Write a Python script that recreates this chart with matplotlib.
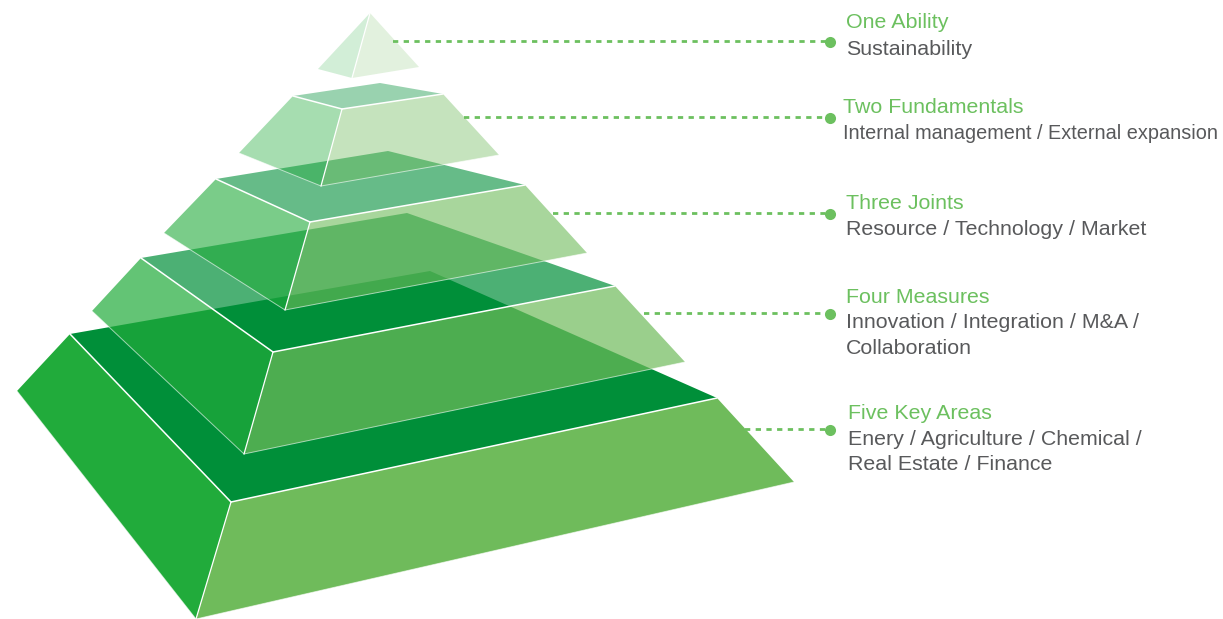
"""Five tier strategy pyramid with labels on the right."""

import matplotlib

matplotlib.use("Agg")
import matplotlib.pyplot as plt
from matplotlib.patches import Polygon

plt.rcParams["font.family"] = ["Liberation Sans", "DejaVu Sans"]

WIDTH, HEIGHT = 1223, 619

# vertices, in image pixels, bottom tier first
tops = [
    [(430, 271), (70, 334), (231, 502), (717, 398)],
    [(407, 213), (141, 258), (273, 352), (615, 286)],
    [(388, 151), (216, 179), (310, 222), (525, 185)],
    [(380, 83), (293, 96), (342, 109), (443, 94)],
    None,
]
lefts = [
    [(70, 334), (231, 502), (196, 619), (17, 391)],
    [(141, 258), (273, 352), (244, 454), (92, 311)],
    [(216, 179), (310, 222), (285, 310), (164, 233)],
    [(293, 96), (342, 109), (321, 186), (239, 153)],
    [(370, 13), (352, 78), (318, 69)],
]
rights = [
    [(231, 502), (717, 398), (794, 482), (196, 619)],
    [(273, 352), (615, 286), (685, 362), (244, 454)],
    [(310, 222), (525, 185), (587, 253), (285, 310)],
    [(342, 109), (443, 94), (499, 155), (321, 186)],
    [(370, 13), (419, 67), (352, 78)],
]
alphas = [1.0, 0.7, 0.6, 0.4, 0.2]

top_color = "#008f39"
left_color = "#21ab3b"
right_color = "#6fbb5b"
green = "#6cc05f"
gray = "#58595b"

leader_y = [429.5, 313.5, 213.5, 117.5, 41.5]
leader_start = [745, 644, 553, 464, 393]
leader_end = 830

titles = ["Five Key Areas", "Four Measures", "Three Joints", "Two Fundamentals", "One Ability"]
title_x = [848, 846, 846, 843, 846]
title_y = [419, 303, 209, 113, 28]
details = [
    ["Enery / Agriculture / Chemical /", "Real Estate / Finance"],
    ["Innovation / Integration / M&A /", "Collaboration"],
    ["Resource / Technology / Market"],
    ["Internal management / External expansion"],
    ["Sustainability"],
]
detail_y = [[445, 470], [328, 354], [235], [139], [55]]
detail_size = [15.4, 15.4, 15.4, 14.35, 15.4]


def edge(axis, start, end, width, alpha=1.0):
    axis.plot([start[0], end[0]], [start[1], end[1]], color="white",
              linewidth=width, alpha=alpha, solid_capstyle="round")


fig = plt.figure(figsize=(WIDTH / 100, HEIGHT / 100), dpi=100)
axis = fig.add_axes([0, 0, 1, 1])
axis.set_xlim(0, WIDTH)
axis.set_ylim(HEIGHT, 0)
axis.axis("off")

for top, left, right, alpha in zip(tops, lefts, rights, alphas):
    if top:
        axis.add_patch(Polygon(top, closed=True, facecolor=top_color, alpha=alpha, linewidth=0))
    axis.add_patch(Polygon(left, closed=True, facecolor=left_color, alpha=alpha, linewidth=0))
    axis.add_patch(Polygon(right, closed=True, facecolor=right_color, alpha=alpha, linewidth=0))

    # front edges of the top face are the strong white lines
    if top:
        edge(axis, top[1], top[2], 1.1)
        edge(axis, top[2], top[3], 1.1)
        edge(axis, left[2], left[3], 0.7, 0.6)
        edge(axis, right[2], right[3], 0.7, 0.6)
    edge(axis, right[0], right[-1], 0.9)

for y, start in zip(leader_y, leader_start):
    axis.plot([start, leader_end], [y, y], color=green, linewidth=2.0,
              dashes=(1.9, 1.95), dash_capstyle="butt", snap=False)
    axis.plot(leader_end, y, "o", color=green, markersize=8, markeredgewidth=0)

for title, x, y, lines, ys, size in zip(titles, title_x, title_y, details, detail_y, detail_size):
    axis.text(x, y, title, color=green, fontsize=15.4, va="baseline", ha="left")
    for line, line_y in zip(lines, ys):
        axis.text(x, line_y, line, color=gray, fontsize=size, va="baseline", ha="left")

fig.savefig("out.png", dpi=100, facecolor="white")
plt.close(fig)
